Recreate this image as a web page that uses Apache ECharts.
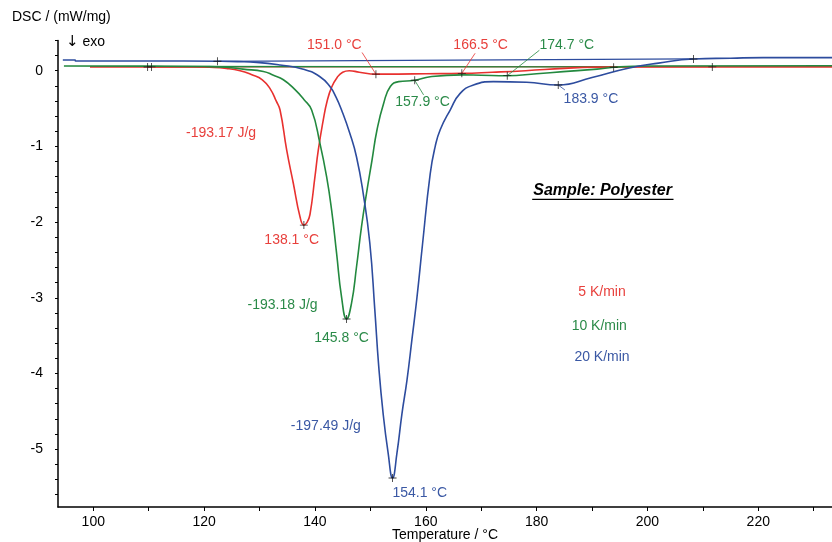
<!DOCTYPE html>
<html>
<head>
<meta charset="utf-8">
<script src="https://cdn.jsdelivr.net/npm/echarts@6/dist/echarts.min.js"></script>
<style>html,body{margin:0;padding:0;background:#fff;overflow:hidden}#c{width:832px;height:542px}</style>
</head>
<body>
<div id="c"></div>
<script>
// ---- data (temperature °C, DSC mW/mg) ----
const xLabelValues = [100, 120, 140, 160, 180, 200, 220];
const xTickValues = [100, 110, 120, 130, 140, 150, 160, 170, 180, 190, 200, 210, 220, 230];
const yLabelValues = [0, -1, -2, -3, -4, -5];
const yTickValues = [0.4, 0.2, 0, -0.2, -0.4, -0.6, -0.8, -1, -1.2, -1.4, -1.6, -1.8, -2, -2.2, -2.4, -2.6, -2.8, -3, -3.2, -3.4, -3.6, -3.8, -4, -4.2, -4.4, -4.6, -4.8, -5, -5.2, -5.4, -5.6];

const redCurve = [[99.4,0.05],[110,0.05],[118,0.05],[121,0.045],[124,0.03],[126.5,0.0],[128.5,-0.05],[130.5,-0.12],[132,-0.25],[133,-0.4],[133.7,-0.52],[134.9,-1.05],[136.1,-1.49],[137.3,-1.93],[138.0,-2.04],[138.6,-2.0],[139.1,-1.9],[140.0,-1.40],[140.6,-1.05],[141.5,-0.65],[142.2,-0.4],[143.0,-0.22],[144.0,-0.09],[145.0,-0.02],[146.2,0.0],[148,-0.02],[151.0,-0.046],[155,-0.045],[160,-0.04],[166.5,-0.035],[172,-0.02],[178,0.0],[185,0.03],[190,0.045],[200,0.05],[211.7,0.05],[233.3,0.05]];
const greenCurve = [[94.7,0.062],[110,0.06],[120,0.055],[124,0.045],[127,0.02],[130.7,-0.01],[132.5,-0.06],[134.3,-0.12],[136.4,-0.25],[138,-0.38],[139.4,-0.52],[140.9,-0.96],[142.1,-1.40],[143.0,-1.84],[143.9,-2.41],[144.8,-2.99],[145.7,-3.28],[146.6,-3.07],[147.5,-2.59],[148.4,-2.06],[149.3,-1.62],[150.3,-1.18],[151.2,-0.78],[152.4,-0.43],[153.6,-0.21],[155.1,-0.145],[158.0,-0.127],[160.8,-0.08],[166.5,-0.055],[170,-0.06],[174.7,-0.066],[180,-0.04],[184.8,-0.013],[190.9,0.02],[193.9,0.045],[200,0.062],[233.3,0.066]];
const blueCurve = [[94.5,0.141],[96.7,0.141],[96.8,0.128],[110,0.128],[122.4,0.124],[126,0.12],[129.5,0.11],[133.7,0.075],[137.9,0.02],[140.9,-0.08],[142.7,-0.21],[143.8,-0.35],[144.8,-0.52],[146.3,-0.83],[147.5,-1.14],[148.7,-1.62],[149.9,-2.28],[150.8,-3.16],[151.5,-3.9],[152.3,-4.53],[153.2,-5.05],[154.0,-5.38],[154.8,-5.05],[155.7,-4.53],[156.6,-4.09],[157.5,-3.55],[158.4,-3.0],[159.4,-2.3],[160.8,-1.36],[161.7,-1.0],[162.6,-0.78],[164.4,-0.52],[166.2,-0.30],[168.6,-0.19],[172.2,-0.145],[178.2,-0.153],[183.9,-0.19],[190,-0.09],[196.3,0.03],[202,0.1],[208.3,0.155],[215,0.165],[220.9,0.172],[233.3,0.172]];

const redBaseline = [[109.8,0.049],[211.7,0.053]];
const greenBaseline = [[110.5,0.055],[193.9,0.05]];
const blueBaseline = [[122.4,0.124],[208.3,0.155]];

const evalPoints = [[109.8,0.049],[110.5,0.05],[122.4,0.124],[138.0,-2.04],[145.7,-3.28],[154.0,-5.38],[151.0,-0.046],[158.0,-0.127],[166.5,-0.035],[174.7,-0.066],[183.9,-0.19],[193.9,0.045],[208.3,0.155],[211.7,0.05]];

const redTexts = [['-193.17 J/g',123.05,-0.827],['138.1 °C',135.8,-2.236],['151.0 °C',143.5,0.335],['166.5 °C',169.9,0.34],['5 K/min',191.8,-2.93]];
const greenTexts = [['-193.18 J/g',134.15,-3.095],['145.8 °C',144.8,-3.535],['157.9 °C',159.4,-0.41],['174.7 °C',185.45,0.343],['10 K/min',191.3,-3.37]];
const blueTexts = [['-197.49 J/g',141.97,-4.69],['154.1 °C',158.9,-5.575],['183.9 °C',189.8,-0.374],['20 K/min',191.8,-3.78]];
const redLeaders = [[[148.5,0.24],[151.0,-0.046]],[[168.9,0.23],[166.5,-0.035]]];
const greenLeaders = [[[158.0,-0.127],[159.6,-0.32]],[[180.5,0.27],[174.7,-0.066]]];
const blueLeaders = [[[183.9,-0.19],[185.1,-0.255]]];
const sampleTitle = ['Sample: Polyester',191.9,-1.585];
const sampleUnderline = [[179.2,-1.70],[204.7,-1.70]];

// ---- styling ----
const RED = '#e8312f', GREEN = '#23893f', BLUE = '#2d4c9e';
const RED_T = '#e8403c', GREEN_T = '#2a8a48', BLUE_T = '#3a58a4';
const FONT = '"Liberation Sans", Arial, sans-serif';

function curve(data, color, z) {
  return {type:'line', data, showSymbol:false, smooth:0.5, silent:true, z,
    lineStyle:{color, width:1.6}, animation:false};
}
function straight(data, color, w, z) {
  return {type:'line', data, showSymbol:false, silent:true, z,
    lineStyle:{color, width:w}, animation:false};
}
function texts(arr, color, size, weight, style) {
  return {type:'scatter', symbol:'circle', symbolSize:0, silent:true, z:10, animation:false,
    itemStyle:{color:'rgba(0,0,0,0)'},
    data: arr.map(a => ({name:a[0], value:[a[1], a[2]]})),
    label:{show:true, position:'inside', formatter:p=>p.name, color, fontSize:size, fontFamily:FONT,
      fontWeight:weight||'normal', fontStyle:style||'normal', opacity:1}};
}

const series = [];
series.push(straight(redBaseline, RED, 1.3, 2));
series.push(straight(greenBaseline, GREEN, 1.3, 2));
series.push(straight(blueBaseline, BLUE, 1.3, 2));
series.push(curve(redCurve, RED, 3));
series.push(curve(greenCurve, GREEN, 3));
series.push(curve(blueCurve, BLUE, 3));
redLeaders.forEach(l => series.push(straight(l, RED, 0.8, 4)));
greenLeaders.forEach(l => series.push(straight(l, GREEN, 0.8, 4)));
blueLeaders.forEach(l => series.push(straight(l, BLUE, 0.8, 4)));
series.push(straight(sampleUnderline, '#000', 1.4, 4));
series.push({type:'scatter', data:evalPoints, symbol:'path://M4,0H5V9H4ZM0,4H9V5H0Z', symbolSize:8,
  itemStyle:{color:'#111'}, silent:true, z:8, animation:false});
series.push(texts(redTexts, RED_T, 14));
series.push(texts(greenTexts, GREEN_T, 14));
series.push(texts(blueTexts, BLUE_T, 14));
series.push(texts([sampleTitle], '#000', 16, 'bold', 'italic'));

const chart = echarts.init(document.getElementById('c'), null, {renderer:'canvas'});
chart.setOption({
  backgroundColor:'#fff',
  animation:false,
  grid:{left:58, right:0, top:40.4, bottom:35, containLabel:false, outerBoundsMode:'none'},
  xAxis:{type:'value', min:93.63, max:233.3,
    name:'Temperature / °C', nameLocation:'middle', nameGap:21, nameMoveOverlap:false,
    nameTextStyle:{color:'#000', fontSize:14, fontFamily:FONT},
    axisLine:{show:true, onZero:false, lineStyle:{color:'#000', width:1.5}},
    axisTick:{show:true, customValues:xTickValues, length:4, lineStyle:{color:'#000', width:1}},
    axisLabel:{customValues:xLabelValues, margin:8, color:'#000', fontSize:14, fontFamily:FONT},
    splitLine:{show:false}},
  yAxis:{type:'value', min:-5.764, max:0.4,
    axisLine:{show:true, onZero:false, lineStyle:{color:'#000', width:1.5}},
    axisTick:{show:true, customValues:yTickValues, length:3, lineStyle:{color:'#000', width:1}},
    axisLabel:{customValues:yLabelValues, margin:15, color:'#000', fontSize:14, fontFamily:FONT},
    splitLine:{show:false}},
  graphic:[
    {type:'text', x:12, y:17, style:{text:'DSC / (mW/mg)', fill:'#000', fontSize:14, fontFamily:FONT, verticalAlign:'middle', align:'left'}},
    {type:'text', x:66, y:42, style:{text:'{a|↓} exo', fill:'#000', fontSize:14, fontFamily:FONT, verticalAlign:'middle', align:'left',
      rich:{a:{fontFamily:'"DejaVu Sans"', fontSize:15, fill:'#000'}}}}
  ],
  series
});
</script>
</body>
</html>
